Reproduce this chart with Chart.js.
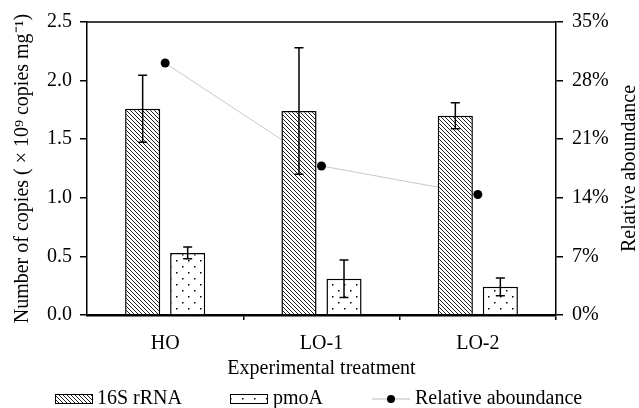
<!DOCTYPE html>
<html>
<head>
<meta charset="utf-8">
<script src="https://cdn.jsdelivr.net/npm/chart.js@4.4.0/dist/chart.umd.min.js"></script>
<style>
  html, body { margin: 0; padding: 0; background: #fff; }
  #wrap { width: 639px; height: 408px; }
</style>
</head>
<body>
<div id="wrap"><canvas id="chart" width="639" height="408"></canvas></div>
<script>
var treatments = ['HO', 'LO-1', 'LO-2'];
var rrna16s = [1.76, 1.74, 1.70];
var rrna16sErr = [0.285, 0.54, 0.11];
var pmoA = [0.53, 0.31, 0.24];
var pmoAErr = [0.05, 0.16, 0.075];
var relAbundance = [30.1, 17.8, 14.4];
var leftTicks = [0, 0.5, 1.0, 1.5, 2.0, 2.5];
var rightTicks = [0, 7, 14, 21, 28, 35];

var FONT = 'Liberation Serif';
var canvas = document.getElementById('chart');
var ctx = canvas.getContext('2d');

function hatchPattern() {
    var c = document.createElement('canvas');
    c.width = 4; c.height = 4;
    var g = c.getContext('2d');
    g.fillStyle = '#fff';
    g.fillRect(0, 0, 4, 4);
    g.strokeStyle = '#222';
    g.lineWidth = 1;
    g.beginPath();
    g.moveTo(0, 0); g.lineTo(4, 4);
    g.moveTo(-1, 3); g.lineTo(1, 5);
    g.moveTo(3, -1); g.lineTo(5, 1);
    g.stroke();
    return ctx.createPattern(c, 'repeat');
}

function dotPattern() {
    var c = document.createElement('canvas');
    c.width = 12; c.height = 12;
    var g = c.getContext('2d');
    g.fillStyle = '#fff';
    g.fillRect(0, 0, 12, 12);
    g.fillStyle = '#000';
    g.fillRect(2, 2, 1.5, 1.5);
    g.fillRect(8, 8, 1.5, 1.5);
    return ctx.createPattern(c, 'repeat');
}

var hatch = hatchPattern();
var dots = dotPattern();

// error bars on top of the bars
var errorBars = {
    id: 'errorBars',
    afterDatasetsDraw: function(chart) {
        var y = chart.scales.y;
        var c = chart.ctx;
        var sets = [[0, rrna16s, rrna16sErr], [1, pmoA, pmoAErr]];
        c.save();
        c.strokeStyle = '#000';
        c.lineWidth = 1.5;
        sets.forEach(function(s) {
            var meta = chart.getDatasetMeta(s[0]);
            meta.data.forEach(function(bar, i) {
                var top = y.getPixelForValue(s[1][i] + s[2][i]);
                var bot = y.getPixelForValue(s[1][i] - s[2][i]);
                c.beginPath();
                c.moveTo(bar.x, top); c.lineTo(bar.x, bot);
                c.moveTo(bar.x - 4.5, top); c.lineTo(bar.x + 4.5, top);
                c.moveTo(bar.x - 4.5, bot); c.lineTo(bar.x + 4.5, bot);
                c.stroke();
            });
        });
        c.restore();
    }
};

// top frame line, right axis title (reads upwards) and legend at the bottom
var frameAndLegend = {
    id: 'frameAndLegend',
    afterDraw: function(chart) {
        var a = chart.chartArea;
        var c = chart.ctx;
        c.save();
        c.strokeStyle = '#000';
        c.lineWidth = 1.5;
        c.beginPath();
        c.moveTo(a.left, a.top); c.lineTo(a.right, a.top);
        c.stroke();

        c.font = '20px "' + FONT + '"';
        c.fillStyle = '#000';
        c.textBaseline = 'middle';

        c.save();
        c.translate(630, (a.top + a.bottom) / 2);
        c.rotate(-Math.PI / 2);
        c.textAlign = 'center';
        c.fillText('Relative aboundance', 0, 0);
        c.restore();

        var ly = 399;
        c.lineWidth = 1;
        c.fillStyle = hatch;
        c.fillRect(55, 394, 38, 10);
        c.strokeRect(55.5, 394.5, 37, 9);
        c.fillStyle = '#000';
        c.fillText('16S rRNA', 97, ly);

        c.fillStyle = dots;
        c.fillRect(230, 394, 38, 10);
        c.strokeRect(230.5, 394.5, 37, 9);
        c.fillStyle = '#000';
        c.fillText('pmoA', 273, ly);

        c.strokeStyle = '#bbb';
        c.beginPath();
        c.moveTo(372, ly); c.lineTo(410, ly);
        c.stroke();
        c.beginPath();
        c.arc(391, ly, 4, 0, Math.PI * 2);
        c.fillStyle = '#000';
        c.fill();
        c.fillText('Relative aboundance', 415, ly);
        c.restore();
    }
};

Chart.defaults.font.family = FONT;
Chart.defaults.font.size = 20;
Chart.defaults.color = '#000';

new Chart(ctx, {
    type: 'bar',
    data: {
        labels: treatments,
        datasets: [
            {
                label: '16S rRNA',
                data: rrna16s,
                backgroundColor: hatch,
                borderColor: '#000',
                borderWidth: 1.5,
                categoryPercentage: 0.576,
                barPercentage: 0.78,
                yAxisID: 'y',
                order: 1
            },
            {
                label: 'pmoA',
                data: pmoA,
                backgroundColor: dots,
                borderColor: '#000',
                borderWidth: 1.5,
                categoryPercentage: 0.576,
                barPercentage: 0.78,
                yAxisID: 'y',
                order: 1
            },
            {
                type: 'line',
                label: 'Relative aboundance',
                data: relAbundance,
                yAxisID: 'y1',
                borderColor: '#c8c8c8',
                borderWidth: 1,
                pointRadius: 4.5,
                pointBackgroundColor: '#000',
                pointBorderColor: '#000',
                pointBorderWidth: 0,
                tension: 0,
                order: 2
            }
        ]
    },
    options: {
        responsive: false,
        animation: false,
        layout: { padding: { left: 0, right: 0, top: 22, bottom: 28 } },
        plugins: {
            legend: { display: false },
            tooltip: { enabled: false }
        },
        scales: {
            x: {
                offset: true,
                grid: {
                    offset: true,
                    drawOnChartArea: false,
                    drawTicks: true,
                    tickLength: 5,
                    lineWidth: 1.5,
                    color: function(c) {
                        return (c.index === 0 || c.index === treatments.length) ? 'rgba(0,0,0,0)' : '#000';
                    }
                },
                border: { color: '#000', width: 2.5 },
                ticks: { padding: 12, font: { size: 20 } },
                title: {
                    display: true,
                    text: 'Experimental treatment',
                    font: { size: 20, lineHeight: 1 },
                    padding: { top: 0, bottom: 1 }
                },
                afterFit: function(s) { s.height = 65; }
            },
            y: {
                position: 'left',
                min: 0,
                max: 2.5,
                afterBuildTicks: function(s) {
                    s.ticks = leftTicks.map(function(v) { return { value: v }; });
                },
                ticks: {
                    padding: 8,
                    callback: function(v) { return v.toFixed(1); }
                },
                grid: { drawOnChartArea: false, tickLength: 7, color: '#000', lineWidth: 1.5 },
                border: { color: '#000', width: 1.5 },
                title: {
                    display: true,
                    text: 'Number of copies ( \u00d7 10\u2079 copies mg\u207b\u00b9)',
                    font: { size: 20, lineHeight: 1.2 },
                    padding: { top: 11, bottom: 0 }
                },
                afterFit: function(s) { s.width = 87; }
            },
            y1: {
                position: 'right',
                min: 0,
                max: 35,
                afterBuildTicks: function(s) {
                    s.ticks = rightTicks.map(function(v) { return { value: v }; });
                },
                ticks: {
                    padding: 9,
                    callback: function(v) { return v + '%'; }
                },
                grid: { drawOnChartArea: false, tickLength: 7, color: '#000', lineWidth: 1.5 },
                border: { color: '#000', width: 1.5 },
                title: { display: false },
                afterFit: function(s) { s.width = 83; }
            }
        }
    },
    plugins: [errorBars, frameAndLegend]
});
</script>
</body>
</html>
